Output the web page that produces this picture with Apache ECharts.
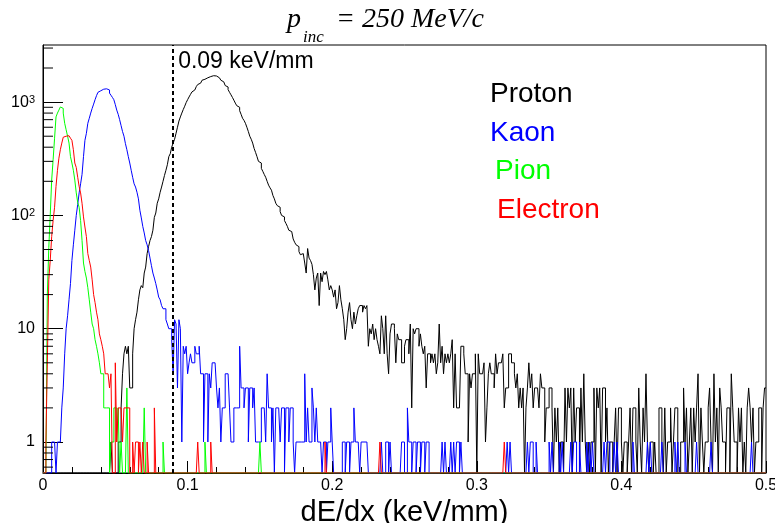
<!DOCTYPE html>
<html>
<head>
<meta charset="utf-8">
<script src="https://cdn.jsdelivr.net/npm/echarts@6/dist/echarts.min.js"></script>
<style>
  html, body { margin: 0; padding: 0; background: #fff; }
  #main { width: 775px; height: 523px; }
</style>
</head>
<body>
<div id="main"></div>
<script>
// histogram binning (keV/mm), 500 bins of 0.001
var binWidth = 0.001;
var xMin = 0, xMax = 0.5;
var yMin = 0.5326, yMax = 3192;
var yMinorTicks = [0.6, 0.7, 0.8, 0.9, 2, 3, 4, 5, 6, 7, 8, 9, 20, 30, 40, 50, 60, 70, 80, 90,
    200, 300, 400, 500, 600, 700, 800, 900, 2000, 3000];
var cutValue = 0.09;
var cutLabel = '0.09 keV/mm';
var xTitle = 'dE/dx (keV/mm)';

var seriesNames = ['Proton', 'Kaon', 'Pion', 'Electron'];
var seriesColors = ['#000000', '#0000ff', '#00ff00', '#ff0000'];

var protonCounts = [
    0,0,0,0,0,0,0,0,0,0,0,0,0,0,0,0,0,0,0,0,0,0,0,0,0,
    0,0,0,0,0,0,0,0,0,0,0,0,0,0,0,0,0,0,0,0,0,0,1,0,0,
    0,0,1,1,2,4,6,7,6,7,3,3,6,10,12,14,18,22,24,23,31,35,46,53,60,
    65,74,96,105,128,140,160,178,200,225,250,280,330,350,400,435,470,530,600,680,740,800,860,920,990,
    1050,1110,1170,1230,1280,1320,1370,1430,1470,1520,1560,1590,1610,1640,1660,1680,1690,1710,1700,1700,1680,1640,1600,1560,1510,
    1460,1400,1360,1290,1220,1160,1100,1040,980,930,900,840,780,720,690,650,600,550,500,470,435,390,360,330,300,
    290,260,245,230,217,200,185,175,167,150,140,128,122,118,108,100,97,90,85,80,74,72,70,62,58,
    55,53,48,45,46,45,38,31,51,42,40,37,30,22,28,31,16,31,26,32,30,32,27,22,24,
    22,19,22,15,17,24,18,15,12,8,10,14,17,12,10,14,11,13,15,16,16,14,16,15,16,
    7,10,9,11,8,10,8,7,6,13,10,6,13,6,4,9,11,11,10,5,9,8,8,5,5,
    7,8,8,6,11,2,10,9,10,10,7,9,7,6,7,3,6,6,5,6,5,6,4,5,11,
    5,7,4,6,5,6,5,6,8,2,6,2,2,2,7,7,6,4,4,1,4,3,4,4,6,
    0,6,4,4,4,5,1,2,4,5,4,4,3,6,4,5,5,5,6,2,3,3,6,6,5,
    5,4,3,4,2,3,2,3,0,2,3,5,3,4,2,3,3,3,2,4,3,3,1,2,2,
    3,3,2,0,2,1,2,0,1,1,0,3,1,3,2,3,0,3,1,2,2,0,3,1,4,
    1,0,1,0,1,1,3,0,3,2,3,0,3,3,1,2,0,1,1,0,1,2,0,2,2,
    1,0,1,1,0,1,2,0,2,2,1,0,3,1,0,2,1,4,1,0,1,1,0,1,0,
    0,2,2,1,0,2,0,1,1,2,0,1,2,2,0,0,1,1,3,1,2,0,1,2,0,
    2,1,2,4,0,2,1,0,1,1,2,3,1,0,4,1,2,0,3,2,1,1,0,2,2,
    0,4,2,1,1,0,2,1,2,0,1,0,2,3,2,1,2,0,1,1,2,2,0,2,3
];

var kaonCounts = [
    0,0,0,0,0,0,1,1,1,0,1,1,1,2,3,6,10,13,18,25,40,55,74,100,125,
    158,190,230,330,460,530,650,720,800,880,960,1050,1140,1220,1260,1290,1300,1310,1310,1300,1280,1200,1150,1100,1050,
    950,850,780,700,620,550,500,430,380,330,290,250,217,190,178,160,140,111,95,80,70,60,55,49,42,
    36,31,28,25,22,19,18,16,15,15,12,11,10,10,8,4,12,11,3,12,10,1,7,6,7,
    4,5,6,5,5,7,6,6,7,4,4,1,4,4,1,4,3,5,5,5,3,2,3,1,2,
    2,4,4,4,2,1,1,2,2,2,2,7,3,3,2,3,3,1,3,3,2,3,1,1,1,
    1,2,2,2,1,4,2,2,1,2,0,2,2,2,1,2,2,0,2,2,1,2,2,1,0,
    1,1,1,1,1,1,4,1,2,1,1,3,2,1,2,1,1,1,0,1,1,0,1,1,2,
    1,0,0,0,0,0,0,1,1,0,1,1,0,1,1,2,1,1,1,0,1,1,1,1,1,
    0,0,0,0,0,0,0,0,0,1,0,0,1,1,0,1,0,0,0,0,0,0,0,1,1,
    0,0,2,1,1,0,1,1,0,1,1,0,1,1,0,1,1,0,0,0,0,0,0,0,0,
    0,1,0,1,0,0,0,1,0,1,0,1,1,0,1,0,0,0,0,0,0,0,0,0,0,
    0,0,0,0,0,0,0,0,0,0,0,0,0,0,0,0,0,0,0,0,0,1,0,1,0,
    0,0,0,0,0,0,0,0,0,0,1,0,1,1,0,0,1,0,0,0,0,0,0,0,0,
    1,0,1,0,0,0,0,1,0,1,0,0,0,0,0,1,0,1,1,0,0,1,0,0,0,
    0,1,0,1,0,1,0,0,0,0,0,0,0,1,0,1,1,0,0,0,1,0,1,0,0,
    0,0,0,0,0,0,0,0,1,0,0,0,0,0,0,0,0,0,1,0,1,0,0,0,0,
    0,0,0,1,0,0,0,0,0,0,0,0,1,0,1,0,0,0,0,1,0,0,0,0,0,
    0,0,1,0,0,0,0,0,0,0,0,0,1,0,0,0,0,0,0,0,0,0,0,0,0,
    0,0,0,0,0,0,0,0,0,0,0,0,0,0,0,1,0,0,0,0,0,0,0,0,0
];

var pionCounts = [
    0,0,0,20,52,100,205,310,480,740,800,850,906,880,800,650,570,500,435,330,290,250,205,158,130,
    118,90,60,38,32,28,23,18,14,11,10,8,7,6,5,4,4,2,2,2,2,0,1,1,2,
    2,1,2,0,1,0,0,0,3,0,0,0,0,0,0,0,0,0,0,0,2,0,0,0,0,
    0,0,0,0,0,0,0,0,1,0,0,0,0,0,0,0,0,0,0,0,0,0,0,0,0,
    0,0,0,0,0,0,0,0,0,0,0,0,1,0,0,0,0,0,0,0,0,0,0,0,0,
    0,0,0,0,0,0,0,0,0,0,0,0,0,0,0,0,0,0,0,0,0,0,0,0,0,
    1,0,0,0,0,0,0,0,0,0,0,0,0,0,0,0,0,0,0,0,0,0,0,0,0,
    0,0,0,0,0,0,0,0,0,0,0,0,0,0,0,0,0,0,0,0,0,0,0,0,0,
    0,0,0,0,0,0,0,0,0,0,0,0,0,0,0,0,0,0,0,0,0,0,0,0,0,
    0,0,0,0,0,0,0,0,0,0,0,0,0,0,0,0,0,0,0,0,0,0,0,0,0,
    0,0,0,0,0,0,0,0,0,0,0,0,0,0,0,0,0,0,0,0,0,0,0,0,0,
    0,0,0,0,0,0,0,0,0,0,0,0,0,0,0,0,0,0,0,0,0,0,0,0,0,
    0,0,0,0,0,0,0,0,0,0,0,0,0,0,0,0,0,0,0,0,0,0,0,0,0,
    0,0,0,0,0,0,0,0,0,0,0,0,0,0,0,0,0,0,0,0,0,0,0,0,0,
    0,0,0,0,0,0,0,0,0,0,0,0,0,0,0,0,0,0,0,0,0,0,0,0,0,
    0,0,0,0,0,0,0,0,0,0,0,0,0,0,0,0,0,0,0,0,0,0,0,0,0,
    0,0,0,0,0,0,0,0,0,0,0,0,0,0,0,0,0,0,0,0,0,0,0,0,0,
    0,0,0,0,0,0,0,0,0,0,0,0,0,0,0,0,0,0,0,0,0,0,0,0,0,
    0,0,0,0,0,0,0,0,0,0,0,0,0,0,0,0,0,0,0,0,0,0,0,0,0,
    0,0,0,0,0,0,0,0,0,0,0,0,0,0,0,0,0,0,0,0,0,0,0,0,0
];

var electronCounts = [
    0,0,1,5,27,40,65,90,118,180,250,320,380,435,490,500,510,505,490,480,460,380,290,265,217,
    180,158,128,97,79,65,46,40,35,27,20,17,14,12,9,8,7,6,4,4,4,3,4,0,0,
    5,1,2,2,2,1,2,2,2,2,0,0,1,0,1,1,0,1,0,1,0,0,1,0,0,
    0,0,2,0,0,0,0,0,0,0,0,0,0,0,0,0,0,0,0,0,0,0,0,0,0,
    0,0,0,0,0,0,0,1,0,0,0,0,0,0,0,0,1,0,0,0,0,0,0,0,0,
    0,0,0,0,0,0,0,0,0,0,0,0,0,0,0,0,0,0,0,0,0,0,0,0,0,
    0,0,0,0,0,0,0,0,0,0,0,0,0,0,0,0,0,0,0,0,0,0,0,0,0,
    0,0,0,0,0,0,0,0,0,0,0,0,0,0,0,0,0,0,0,0,1,0,0,0,0,
    0,0,0,0,0,0,0,0,0,0,0,0,0,0,0,0,0,0,0,0,0,0,0,0,0,
    0,0,0,0,0,0,0,0,1,0,0,0,0,0,0,0,0,0,0,0,0,0,0,0,0,
    0,0,0,0,0,0,0,0,0,0,0,0,0,0,0,0,0,0,0,0,0,0,0,0,0,
    0,0,0,0,0,0,0,0,0,0,0,0,0,0,0,0,0,0,0,0,0,0,0,0,0,
    0,0,0,0,0,0,0,0,0,0,0,0,0,0,0,0,0,0,0,1,0,0,0,0,0,
    0,0,0,0,0,0,0,0,0,0,0,0,0,0,0,0,0,0,0,0,0,0,0,0,0,
    0,0,0,0,0,0,0,0,0,0,0,0,0,0,0,0,0,0,0,0,0,0,0,0,0,
    0,0,0,0,0,0,0,0,0,0,0,0,0,0,0,0,0,0,0,0,0,0,0,0,0,
    0,0,0,0,0,0,0,0,0,0,0,0,0,0,0,0,0,0,0,0,0,0,0,0,0,
    0,0,0,0,0,0,0,0,0,0,0,0,0,0,0,0,0,0,0,0,0,0,0,0,0,
    0,0,0,0,0,0,0,0,0,0,0,0,0,0,0,0,0,0,0,0,0,0,0,0,0,
    0,0,0,0,0,0,0,0,0,0,0,0,0,0,0,0,0,0,0,0,0,0,0,0,0
];

var allCounts = [protonCounts, kaonCounts, pionCounts, electronCounts];

// empty bins sit on the bottom of the frame, like ROOT does on a log scale
function histData(counts) {
    var data = [];
    var n = Math.min(counts.length, Math.round((xMax - xMin) / binWidth));
    for (var i = 0; i < n; i++) {
        data.push([xMin + i * binWidth, counts[i] > 0 ? counts[i] : yMin]);
    }
    data.push([xMax, counts[n - 1] > 0 ? counts[n - 1] : yMin]);
    return data;
}

function yLabel(v) {
    var k = Math.round(Math.log(v) / Math.LN10);
    if (Math.abs(Math.log(v) / Math.LN10 - k) > 1e-6) return '';
    if (k === 0) return '1';
    if (k === 1) return '10';
    return '10{sup|' + k + '}';
}

var chart = echarts.init(document.getElementById('main'));
var textFont = '"Liberation Sans", Arial, Helvetica, sans-serif';

var series = [];
for (var s = 0; s < allCounts.length; s++) {
    series.push({
        name: seriesNames[s],
        type: 'line',
        step: 'end',
        data: histData(allCounts[s]),
        showSymbol: false,
        symbol: 'none',
        silent: true,
        clip: true,
        lineStyle: { color: seriesColors[s], width: 1 },
        itemStyle: { color: seriesColors[s] }
    });
}

// log minor ticks on the y axis (2..9 of each decade)
series.push({
    type: 'custom',
    silent: true,
    z: 5,
    data: yMinorTicks.map(function (v) { return [xMin, v]; }),
    renderItem: function (params, api) {
        var p = api.coord([api.value(0), api.value(1)]);
        return {
            type: 'line',
            shape: { x1: p[0], y1: p[1], x2: p[0] + 10, y2: p[1] },
            style: { stroke: '#000', lineWidth: 1 }
        };
    }
});

// cut line
series.push({
    type: 'line',
    data: [],
    silent: true,
    markLine: {
        silent: true,
        symbol: ['none', 'none'],
        label: { show: false },
        lineStyle: { color: '#000', type: [4, 3], width: 2 },
        data: [{ xAxis: cutValue }]
    }
});

chart.setOption({
    animation: false,
    backgroundColor: '#fff',
    grid: {
        left: 43, right: 9, top: 45, bottom: 50,
        show: true, borderColor: '#000', borderWidth: 1,
        containLabel: false, outerBoundsMode: 'none'
    },
    xAxis: {
        type: 'value',
        min: xMin, max: xMax, interval: 0.1,
        name: xTitle,
        nameLocation: 'middle',
        nameGap: 21,
        nameTextStyle: { fontSize: 29, color: '#000', fontFamily: textFont },
        axisLine: { show: true, lineStyle: { color: '#000', width: 1 } },
        axisTick: { show: true, inside: true, length: 12, lineStyle: { color: '#000' } },
        minorTick: { show: true, splitNumber: 5, length: 6, lineStyle: { color: '#000' } },
        axisLabel: { fontSize: 16, color: '#000', margin: 5, fontFamily: textFont },
        splitLine: { show: false },
        minorSplitLine: { show: false }
    },
    yAxis: {
        type: 'log',
        logBase: 10,
        min: yMin, max: yMax,
        axisLine: { show: true, lineStyle: { color: '#000', width: 1 } },
        axisTick: { show: true, inside: true, length: 20, lineStyle: { color: '#000' } },
        axisLabel: {
            fontSize: 16, color: '#000', margin: 8, fontFamily: textFont,
            showMinLabel: false, showMaxLabel: false,
            formatter: yLabel,
            rich: {
                sup: { fontSize: 11, verticalAlign: 'top', fontFamily: textFont, color: '#000' }
            }
        },
        splitLine: { show: false }
    },
    series: series
});

var cutX = chart.convertToPixel({ xAxisIndex: 0 }, cutValue);
var serifItalic = 'italic 28px "Liberation Serif", "Times New Roman", serif';
var legendY = [94, 133, 171, 210];
var legendX = [490, 490, 495, 497];
var graphics = [
    { type: 'text', x: 287, y: 20, style: { text: 'p', font: serifItalic, fill: '#000', verticalAlign: 'middle' } },
    { type: 'text', x: 303, y: 38, style: { text: 'inc', font: 'italic 17px "Liberation Serif", "Times New Roman", serif', fill: '#000', verticalAlign: 'middle' } },
    { type: 'text', x: 336, y: 20, style: { text: '= 250 MeV/c', font: serifItalic, fill: '#000', verticalAlign: 'middle' } },
    { type: 'text', x: cutX + 5, y: 62, style: { text: cutLabel, font: '23px ' + textFont, fill: '#000', verticalAlign: 'middle' } }
];
for (var j = 0; j < seriesNames.length; j++) {
    graphics.push({
        type: 'text', x: legendX[j], y: legendY[j],
        style: { text: seriesNames[j], font: '28px ' + textFont, fill: seriesColors[j], verticalAlign: 'middle' }
    });
}
chart.setOption({ graphic: graphics });
</script>
</body>
</html>
